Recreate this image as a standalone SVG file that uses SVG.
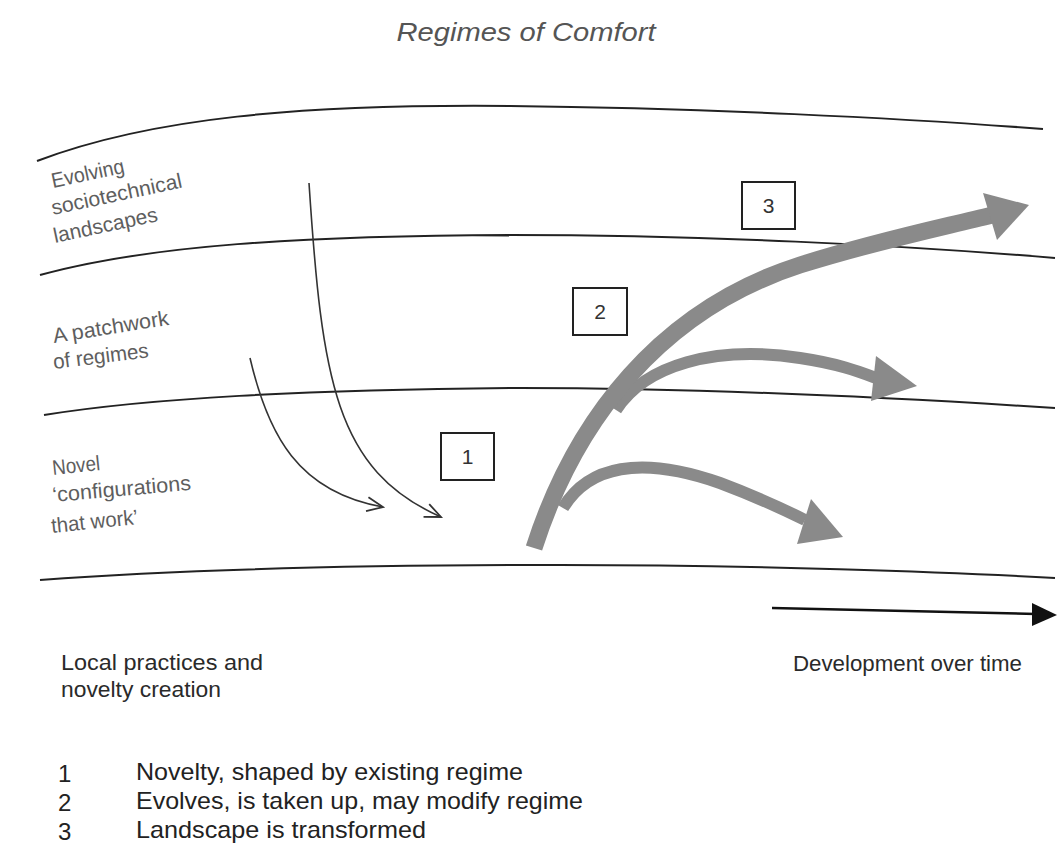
<svg xmlns="http://www.w3.org/2000/svg" width="1058" height="845" viewBox="0 0 1058 845">
<style>
.band{fill:none;stroke:#222;stroke-width:2}
.thin{fill:none;stroke:#333;stroke-width:1.6}
.gray{fill:none;stroke:#8a8a8a;stroke-linecap:butt}
.head{fill:#8a8a8a}
.lbl{font-family:"Liberation Sans",Arial,sans-serif;font-size:21px;fill:#5e5e5e}
.txt{font-family:"Liberation Sans",Arial,sans-serif;font-size:22px;fill:#2a2a2a}
.leg{font-family:"Liberation Sans",Arial,sans-serif;font-size:24px;fill:#222}
.box rect{fill:#fff;stroke:#222;stroke-width:2}
.box text{font-family:"Liberation Sans",Arial,sans-serif;font-size:21px;fill:#333;text-anchor:middle}
</style>
<defs>
<marker id="open" viewBox="0 0 20 20" refX="18" refY="10" markerWidth="20" markerHeight="20" markerUnits="userSpaceOnUse" orient="auto">
<path d="M2,3 L18,10 L2,17" fill="none" stroke="#333" stroke-width="1.8"/>
</marker>
</defs>
<rect width="1058" height="845" fill="#fff"/>
<text x="526" y="41" text-anchor="middle" font-family="Liberation Sans,Arial,sans-serif" font-size="26" font-style="italic" fill="#555" textLength="259" lengthAdjust="spacingAndGlyphs">Regimes of Comfort</text>

<g id="bands">
<path class="band" d="M37,161 C150,118 300,104 510,106 C700,108 900,118 1043,129"/>
<path class="band" d="M40,275 C150,245 300,236 510,235 C700,235 900,245 1055,258"/>
<path class="band" d="M44,415 C150,398 300,390 520,388 C700,388 900,398 1055,408"/>
<path class="band" d="M40,580 C200,568 400,565 560,565 C750,565 950,572 1055,578"/>
</g>

<g id="label-landscapes">
<text class="lbl" x="53" y="188" transform="rotate(-12 53 188)" textLength="74" lengthAdjust="spacingAndGlyphs">Evolving</text>
<text class="lbl" x="53" y="215" transform="rotate(-12 53 215)" textLength="133" lengthAdjust="spacingAndGlyphs">sociotechnical</text>
<text class="lbl" x="55" y="243" transform="rotate(-12 55 243)" textLength="106" lengthAdjust="spacingAndGlyphs">landscapes</text>
</g>
<g id="label-regimes">
<text class="lbl" x="54" y="343" transform="rotate(-9 54 343)" textLength="117" lengthAdjust="spacingAndGlyphs">A patchwork</text>
<text class="lbl" x="54" y="369" transform="rotate(-7 54 369)" textLength="96" lengthAdjust="spacingAndGlyphs">of regimes</text>
</g>
<g id="label-novel">
<text class="lbl" x="53" y="475" transform="rotate(-6 53 475)" textLength="48" lengthAdjust="spacingAndGlyphs">Novel</text>
<text class="lbl" x="53" y="502" transform="rotate(-5 53 502)" textLength="139" lengthAdjust="spacingAndGlyphs">‘configurations</text>
<text class="lbl" x="52" y="533" transform="rotate(-6 52 533)" textLength="87" lengthAdjust="spacingAndGlyphs">that work’</text>
</g>

<g id="connectors">
<path class="thin" d="M250,358 C268,435 298,492 383,507" marker-end="url(#open)"/>
<path class="thin" d="M309,183 C322,380 335,470 441,517" marker-end="url(#open)"/>
<path class="gray" stroke-width="12" d="M616,410 C645,365 715,345 800,358 C840,364 860,372 876,378"/>
<path class="gray" stroke-width="12" d="M563,508 C588,466 640,455 720,483 C760,498 785,510 805,520"/>
<path class="gray" stroke-width="17" d="M534,548 C575,420 660,310 800,265 C880,240 940,228 992,215"/>
<polygon class="head" points="983,193 1029,205 997,240"/>
<polygon class="head" points="876,356 917,386 871,401"/>
<polygon class="head" points="811,499 843,537 797,544"/>
<line x1="772" y1="608" x2="1036" y2="614" stroke="#111" stroke-width="2.5"/>
<polygon points="1032,603 1057,615 1032,626" fill="#111"/>
</g>

<g id="box1" class="box"><rect x="441" y="433" width="53" height="47"/><text x="467.5" y="464">1</text></g>
<g id="box2" class="box"><rect x="573" y="288" width="54" height="47"/><text x="600" y="319">2</text></g>
<g id="box3" class="box"><rect x="742" y="182" width="53" height="47"/><text x="768.5" y="213">3</text></g>

<g id="label-local">
<text class="txt" x="61" y="670" textLength="202" lengthAdjust="spacingAndGlyphs">Local practices and</text>
<text class="txt" x="61" y="697" textLength="160" lengthAdjust="spacingAndGlyphs">novelty creation</text>
</g>
<g id="label-time">
<text class="txt" x="793" y="671" textLength="229" lengthAdjust="spacingAndGlyphs">Development over time</text>
</g>

<g id="legend">
<text class="leg" x="58" y="782">1</text>
<text class="leg" x="136" y="780" textLength="387" lengthAdjust="spacingAndGlyphs">Novelty, shaped by existing regime</text>
<text class="leg" x="58" y="811">2</text>
<text class="leg" x="136" y="809" textLength="447" lengthAdjust="spacingAndGlyphs">Evolves, is taken up, may modify regime</text>
<text class="leg" x="58" y="840">3</text>
<text class="leg" x="136" y="838" textLength="290" lengthAdjust="spacingAndGlyphs">Landscape is transformed</text>
</g>
</svg>
